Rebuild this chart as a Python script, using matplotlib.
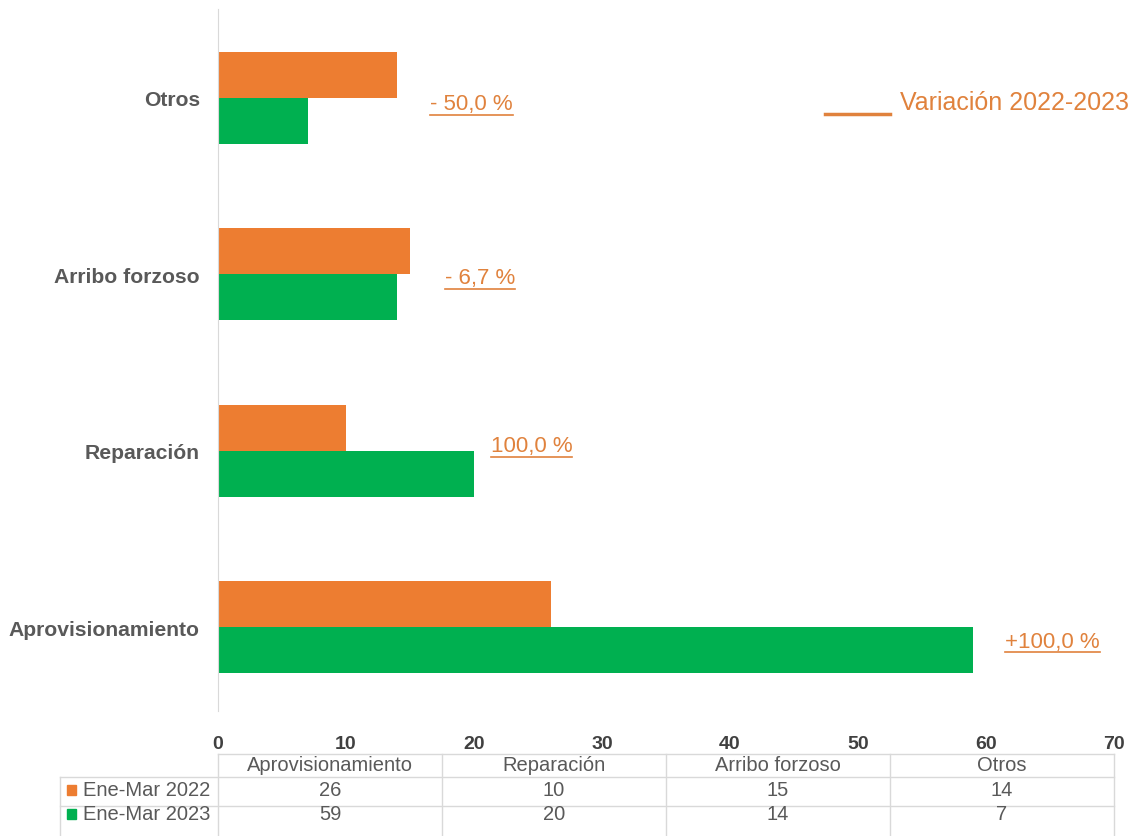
import matplotlib.pyplot as plt
from matplotlib.lines import Line2D
from matplotlib.patches import Rectangle
from matplotlib.transforms import blended_transform_factory
import numpy as np

plt.rcParams["font.family"] = ["Liberation Sans", "DejaVu Sans"]

# Data (bottom to top on the chart)
categories = ["Aprovisionamiento", "Reparación", "Arribo forzoso", "Otros"]
series_names = ["Ene-Mar 2022", "Ene-Mar 2023"]
values_2022 = [26, 10, 15, 14]
values_2023 = [59, 20, 14, 7]
variation_labels = ["+100,0 %", "100,0 %", "- 6,7 %", "- 50,0 %"]
variation_x = [61.5, 21.3, 17.7, 16.6]
variation_dy = [-0.08, 0.03, -0.02, -0.03]

orange = "#ED7D31"
green = "#00B050"
text_orange = "#E0823D"
gray = "#595959"
grid_gray = "#D9D9D9"

W, H = 1130, 837
fig = plt.figure(figsize=(W / 100, H / 100), dpi=100)
ax = fig.add_axes([218 / W, 1 - 712 / H, (1114 - 218) / W, (712 - 10) / H])

y = np.arange(len(categories))
h = 0.26
ax.barh(y + h / 2, values_2022, height=h, color=orange)
ax.barh(y - h / 2, values_2023, height=h, color=green)

ax.set_xlim(0, 70)
ax.set_ylim(-0.476, 3.504)
ax.set_xticks(range(0, 71, 10))
ax.set_yticks(y)
ax.set_yticklabels(categories, fontsize=15.2, fontweight="bold", color=gray)
ax.tick_params(axis="x", labelsize=14, length=0, pad=17)
for lbl in ax.get_xticklabels():
    lbl.set_fontweight("bold")
    lbl.set_color("#404040")
ax.tick_params(axis="y", length=0, pad=13)
for side in ["top", "right", "bottom"]:
    ax.spines[side].set_visible(False)
ax.spines["left"].set_color(grid_gray)

# Variation labels
var_texts = []
for yi, lab, xv, dy in zip(y, variation_labels, variation_x, variation_dy):
    t = ax.text(xv, yi + dy, lab, fontsize=16, color=text_orange, va="center", ha="left")
    var_texts.append(t)

# Legend for variation
fig.add_artist(Line2D([825 / W, 890 / W], [1 - 115 / H, 1 - 115 / H],
                      color=text_orange, lw=2.5))
fig.text(900 / W, 1 - 103 / H, "Variación 2022-2023", fontsize=18,
         color=text_orange, va="center", ha="left")

# Data table under the axis
trans = blended_transform_factory(ax.transData, fig.transFigure)
line_y = [755, 778, 807]
fy = [1 - v / H for v in line_y]
text_y = [1 - v / H for v in [766, 791, 815]]
col_w = 17.5
col_edges = [i * col_w for i in range(len(categories) + 1)]
col_centres = [(i + 0.5) * col_w for i in range(len(categories))]

fig.add_artist(Line2D([0, 70], [fy[0], fy[0]], color=grid_gray, lw=1, transform=trans))
for v in fy[1:]:
    fig.add_artist(Line2D([60 / W, 1114 / W], [v, v], color=grid_gray, lw=1))
fig.add_artist(Line2D([60 / W, 60 / W], [fy[1], 0], color=grid_gray, lw=1))
for xe in col_edges:
    fig.add_artist(Line2D([xe, xe], [fy[0], 0], color=grid_gray, lw=1, transform=trans))

for c, name in zip(col_centres, categories):
    fig.text(c, text_y[0], name, transform=trans, ha="center", va="center",
             fontsize=14.5, color=gray)
for r, (name, vals, col) in enumerate(zip(series_names, [values_2022, values_2023], [orange, green])):
    ym = text_y[r + 1]
    fig.add_artist(Rectangle((67 / W, ym - 5 / H), 9 / W, 10 / H, color=col,
                             transform=fig.transFigure))
    fig.text(83 / W, ym, name, ha="left", va="center", fontsize=14.5, color=gray)
    for c, v in zip(col_centres, vals):
        fig.text(c, ym, str(v), transform=trans, ha="center", va="center",
                 fontsize=14.5, color=gray)

# underline the variation labels
fig.canvas.draw()
renderer = fig.canvas.get_renderer()
inv = fig.transFigure.inverted()
for t in var_texts:
    bb = t.get_window_extent(renderer)
    (x0, y0), (x1, _) = inv.transform([(bb.x0, bb.y0), (bb.x1, bb.y1)])
    fig.add_artist(Line2D([x0, x1], [y0 - 0.001, y0 - 0.001], color=text_orange, lw=1.2))

fig.savefig("out.png", dpi=100)
